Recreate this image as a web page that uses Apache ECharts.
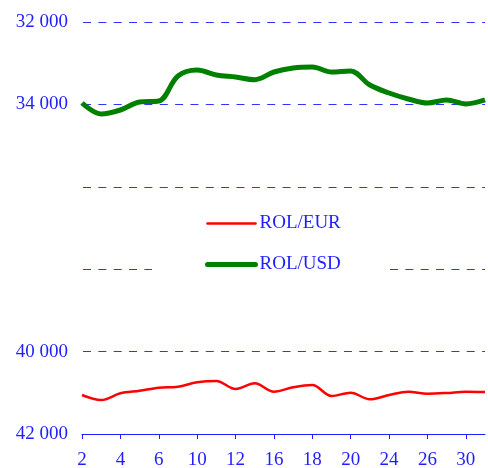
<!DOCTYPE html>
<html>
<head>
<meta charset="utf-8">
<script src="https://cdn.jsdelivr.net/npm/echarts@6/dist/echarts.min.js"></script>
<style>html,body{margin:0;padding:0;background:#fff}#c{width:488px;height:468px}</style>
</head>
<body>
<div id="c"></div>
<script>
var days = ['2','3','4','5','6','9','10','11','12','13','16','17','18','19','20','23','24','25','26','27','30','31'];
var rolEur = [41053,41175,41013,40949,40876,40852,40745,40714,40908,40769,40973,40866,40811,41078,40997,41158,41053,40973,41022,41005,40973,40981];
var rolUsd = [33966,34233,34136,33942,33917,33310,33165,33286,33335,33400,33214,33117,33092,33214,33190,33529,33723,33868,33966,33893,33990,33893];
var yHiddenLabels = [36000, 38000];

var blue = '#1e1eff';
var font = 'Liberation Serif';
var chart = echarts.init(document.getElementById('c'));
chart.setOption({
  animation: false,
  backgroundColor: '#fff',
  grid: {left: 82, right: 3, top: 22, bottom: 34, outerBoundsMode: 'none', containLabel: false},
  legend: {
    orient: 'vertical',
    left: 152, top: 196,
    padding: [18, 46, 12, 53],
    backgroundColor: '#fff',
    itemWidth: 48, itemHeight: 14, itemGap: 22,
    itemStyle: {opacity: 0},
    lineStyle: {width: 'inherit', cap: 'round'},
    textStyle: {color: blue, fontFamily: font, fontSize: 19, padding: [0, 0, 0, -1]},
    data: ['ROL/EUR', 'ROL/USD']
  },
  xAxis: {
    type: 'category', data: days, boundaryGap: false,
    axisLine: {lineStyle: {color: blue, width: 1}},
    axisTick: {interval: 1, length: 5, lineStyle: {color: blue}},
    axisLabel: {interval: 1, color: blue, fontFamily: font, fontSize: 19, margin: 17}
  },
  yAxis: {
    type: 'value', inverse: true, min: 32000, max: 42000, interval: 2000,
    axisLine: {show: false}, axisTick: {show: false},
    axisLabel: {color: blue, fontFamily: font, fontSize: 19, margin: 14,
      formatter: function (v) { return yHiddenLabels.indexOf(v) >= 0 ? '' : String(v).replace(/(\d{2})(\d{3})$/, '$1 $2'); }},
    splitLine: {lineStyle: {color: '#3333ff', width: 1, type: [8, 7.35], dashOffset: -1}}
  },
  series: [
    {name: 'ROL/EUR', type: 'line', data: rolEur, smooth: 0.35, symbol: 'none',
     lineStyle: {color: '#ff0000', width: 2.5}, itemStyle: {color: '#ff0000'}},
    {name: 'ROL/USD', type: 'line', data: rolUsd, smooth: 0.35, symbol: 'none',
     lineStyle: {color: '#008000', width: 5}, itemStyle: {color: '#008000'}}
  ]
});
</script>
</body>
</html>
